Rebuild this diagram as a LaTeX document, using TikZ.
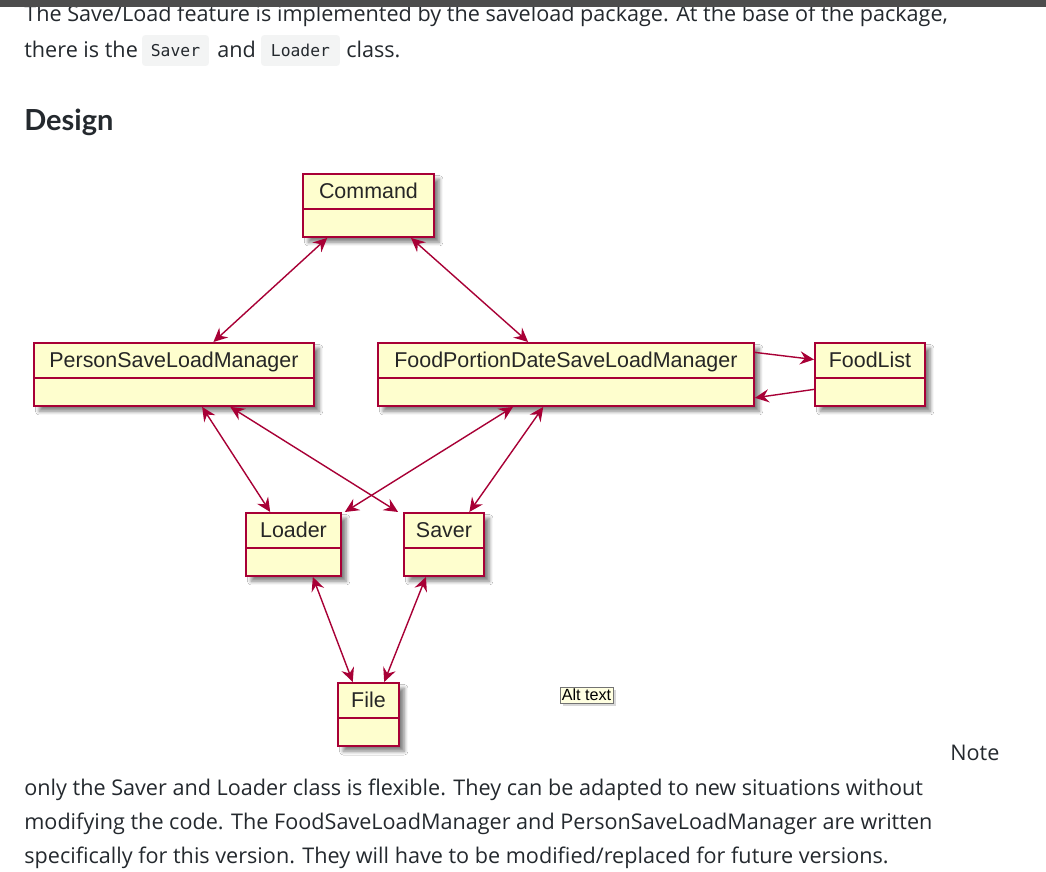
\documentclass[tikz,border=0pt]{standalone}
\usepackage{fontspec}
\setmainfont{Open Sans}
\newfontfamily\headfont{Lato}
\newfontfamily\umlfont{Liberation Sans}
\newfontfamily\codefont{DejaVu Sans Mono}
\usetikzlibrary{arrows.meta,calc,shadows.blur}
\definecolor{umlred}{RGB}{168,0,54}
\definecolor{umlfill}{RGB}{254,254,206}
\definecolor{codegray}{RGB}{243,244,244}
\definecolor{pagebar}{RGB}{77,77,77}
\definecolor{pagetext}{RGB}{36,41,46}
\definecolor{tipfill}{RGB}{255,255,225}

\tikzset{
  umlclass/.style={draw=umlred, line width=1.1pt, fill=umlfill, anchor=north west,
    inner sep=0pt, text height=0.49cm, text depth=0.77cm, text=black!85,
    font=\umlfont\fontsize{12.2}{14}\selectfont,
    blur shadow={shadow xshift=3pt, shadow yshift=-3pt, shadow blur steps=6, shadow opacity=50},
    path picture={\draw[umlred, line width=1.1pt]
      ([yshift=-0.7cm]path picture bounding box.north west) --
      ([yshift=-0.7cm]path picture bounding box.north east);}},
  umltip/.tip={Stealth[length=8pt, width=7.5pt, inset=2.8pt]},
  assoc/.style={umlred, line width=0.8pt, umltip-umltip},
  depend/.style={umlred, line width=0.8pt, -umltip},
  bodytext/.style={anchor=base west, inner sep=0pt, text=pagetext, font=\fontsize{12.3}{14}\selectfont},
  codebox/.style={fill=codegray, rounded corners=2pt, inner sep=0pt, minimum height=0.62cm,
    text=pagetext, font=\codefont\fontsize{9.3}{11}\selectfont},
}

\begin{document}
\begin{tikzpicture}[x=0.02cm, y=-0.02cm]
\useasboundingbox[fill=white] (0,0) rectangle (1046,872);

% page text above the diagram
\node[bodytext] (intro) at (24,22) {The Save/Load feature is implemented by the saveload package. At the base of the package,};
\fill[pagebar] (0,0) rectangle (1046,7);
\node[bodytext] (there) at (24,57) {there is the};
\node[codebox, minimum width=1.34cm] (codesaver) at (175.5,50.5) {Saver};
\node[bodytext] (and) at (217,57) {and};
\node[codebox, minimum width=1.58cm] (codeloader) at (300.5,50.5) {Loader};
\node[bodytext] (class) at (346,57) {class.};
\node[bodytext, font=\headfont\bfseries\fontsize{16.5}{20}\selectfont] (design) at (24,130) {Design};

% classes
\node[umlclass, minimum width=2.62cm] (cmd) at (302,173) {Command};
\node[umlclass, minimum width=5.6cm] (person) at (33,342) {PersonSaveLoadManager};
\node[umlclass, minimum width=7.52cm] (food) at (377,342) {FoodPortionDateSaveLoadManager};
\node[umlclass, minimum width=2.2cm] (foodlist) at (814,342) {FoodList};
\node[umlclass, minimum width=1.9cm] (loader) at (245,512) {Loader};
\node[umlclass, minimum width=1.6cm] (saver) at (403,512) {Saver};
\node[umlclass, minimum width=1.22cm] (file) at (337,682) {File};

% links
\draw[assoc] ($(cmd.south west)!0.19!(cmd.south east)$) -- ($(person.north west)!0.64!(person.north east)$);
\draw[assoc] ($(cmd.south west)!0.82!(cmd.south east)$) -- ($(food.north west)!0.40!(food.north east)$);
\draw[depend] ($(food.north east)!0.16!(food.south east)$) -- ($(foodlist.north west)!0.27!(foodlist.south west)$);
\draw[depend] ($(foodlist.north west)!0.73!(foodlist.south west)$) -- ($(food.north east)!0.86!(food.south east)$);
\draw[assoc] ($(person.south west)!0.60!(person.south east)$) -- ($(loader.north west)!0.26!(loader.north east)$);
\draw[assoc] ($(person.south west)!0.70!(person.south east)$) -- ($(saver.north west)!-0.06!(saver.north east)$);
\draw[assoc] ($(food.south west)!0.36!(food.south east)$) -- ($(loader.north west)!1.03!(loader.north east)$);
\draw[assoc] ($(food.south west)!0.44!(food.south east)$) -- ($(saver.north west)!0.81!(saver.north east)$);
\draw[assoc] ($(loader.south west)!0.70!(loader.south east)$) -- ($(file.north west)!0.25!(file.north east)$);
\draw[assoc] ($(saver.south west)!0.28!(saver.south east)$) -- ($(file.north west)!0.75!(file.north east)$);

% tooltip and text below
\node[draw=black!55, fill=tipfill, inner sep=0pt, minimum width=1.06cm, minimum height=0.32cm,
  font=\umlfont\fontsize{9.2}{10}\selectfont, drop shadow={shadow xshift=1.5pt, shadow yshift=-1.5pt, opacity=0.3}] (alt) at (586.5,695) {Alt text};
\node[bodytext] (note) at (950,760) {Note};
\node[bodytext] (para1) at (24,795) {only the Saver and Loader class is flexible. They can be adapted to new situations without};
\node[bodytext] (para2) at (24,829) {modifying the code. The FoodSaveLoadManager and PersonSaveLoadManager are written};
\node[bodytext] (para3) at (24,863) {specifically for this version. They will have to be modified/replaced for future versions.};
\end{tikzpicture}
\end{document}
